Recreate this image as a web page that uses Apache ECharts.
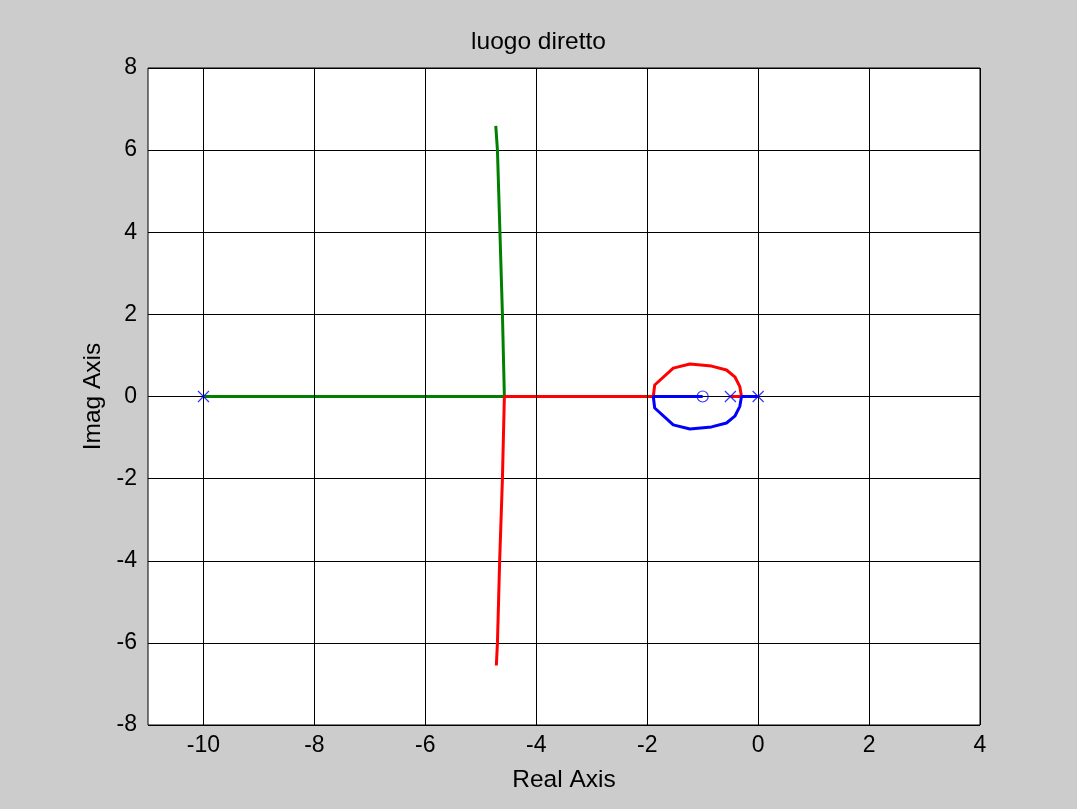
<!DOCTYPE html>
<html>
<head>
<meta charset="utf-8">
<script src="https://cdn.jsdelivr.net/npm/echarts@6/dist/echarts.min.js"></script>
<style>
html,body{margin:0;padding:0;background:#cccccc;}
#chart{width:1077px;height:809px;}
</style>
</head>
<body>
<div id="chart"></div>
<script>
// ---- data ----
const titleText = 'luogo diretto';
const xName = 'Real Axis';
const yName = 'Imag Axis';
const xTicks = [-10, -8, -6, -4, -2, 0, 2, 4];
const poles = [[0, 0], [-0.5, 0], [-10, 0]];
const zerosPts = [[-1, 0]];
const branchBlue = [[0, 0], [-0.3, 0], [-0.33, -0.24], [-0.42, -0.48], [-0.57, -0.645], [-0.84, -0.74], [-1.23, -0.79], [-1.53, -0.69], [-1.865, -0.28], [-1.89, 0], [-1, 0]];
const branchRed = [[-0.5, 0], [-0.3, 0], [-0.33, 0.24], [-0.42, 0.48], [-0.57, 0.645], [-0.84, 0.74], [-1.23, 0.79], [-1.53, 0.69], [-1.865, 0.28], [-1.89, 0], [-4.575, 0], [-4.61, -2], [-4.66, -4], [-4.70, -6], [-4.72, -6.55]];
const branchGreen = [[-10, 0], [-4.575, 0], [-4.61, 2], [-4.655, 4], [-4.70, 6], [-4.73, 6.59]];

const FONT = "'Liberation Sans', Arial, Helvetica, sans-serif";
const chart = echarts.init(document.getElementById('chart'));

chart.setOption({
  backgroundColor: '#cccccc',
  animation: false,
  title: {
    text: titleText, left: 'center', top: 30, padding: 0,
    textStyle: {fontFamily: FONT, fontSize: 24.5, fontWeight: 'normal', color: '#000'}
  },
  grid: {
    left: 148, right: 97, top: 68, bottom: 84,
    show: true, backgroundColor: '#ffffff', borderColor: '#000', borderWidth: 1
  },
  xAxis: {
    type: 'value', min: -11, max: 4,
    name: xName, nameLocation: 'middle', nameGap: 43,
    nameTextStyle: {fontFamily: FONT, fontSize: 24.5, color: '#000'},
    axisLine: {show: false},
    axisTick: {show: true, inside: true, length: 8, customValues: xTicks, lineStyle: {color: '#000'}},
    axisLabel: {customValues: xTicks, fontFamily: FONT, fontSize: 23, color: '#000', margin: 9},
    splitLine: {show: false}
  },
  yAxis: {
    type: 'value', min: -8, max: 8, interval: 2,
    name: yName, nameLocation: 'middle', nameGap: 37,
    nameTextStyle: {fontFamily: FONT, fontSize: 24.5, color: '#000'},
    axisLine: {show: false},
    axisTick: {show: true, inside: true, length: 8, lineStyle: {color: '#000'}},
    axisLabel: {fontFamily: FONT, fontSize: 23, color: '#000', margin: 11},
    splitLine: {show: true, lineStyle: {color: '#000', width: 1}}
  },
  series: [
    {
      type: 'line', data: [], z: 1, silent: true,
      markLine: {
        silent: true, symbol: 'none', label: {show: false},
        lineStyle: {color: '#000', width: 1, type: 'solid'},
        data: xTicks.map(v => ({xAxis: v}))
      }
    },
    {
      type: 'line', data: branchGreen, showSymbol: false, z: 3,
      lineStyle: {color: '#008000', width: 3}, itemStyle: {color: '#008000'}
    },
    {
      type: 'line', data: branchRed, showSymbol: false, z: 3,
      lineStyle: {color: '#ff0000', width: 3}, itemStyle: {color: '#ff0000'}
    },
    {
      type: 'line', data: branchBlue, showSymbol: false, z: 4,
      lineStyle: {color: '#0000ff', width: 3}, itemStyle: {color: '#0000ff'}
    },
    {
      type: 'scatter', data: poles, z: 6,
      symbol: 'path://M0,0L10,10M10,0L0,10', symbolSize: 11,
      itemStyle: {color: 'none', borderColor: '#0000ff', borderWidth: 1.2}
    },
    {
      type: 'scatter', data: zerosPts, z: 6,
      symbol: 'circle', symbolSize: 11,
      itemStyle: {color: 'rgba(0,0,0,0)', borderColor: '#0000ff', borderWidth: 1.2}
    }
  ]
});
</script>
</body>
</html>
